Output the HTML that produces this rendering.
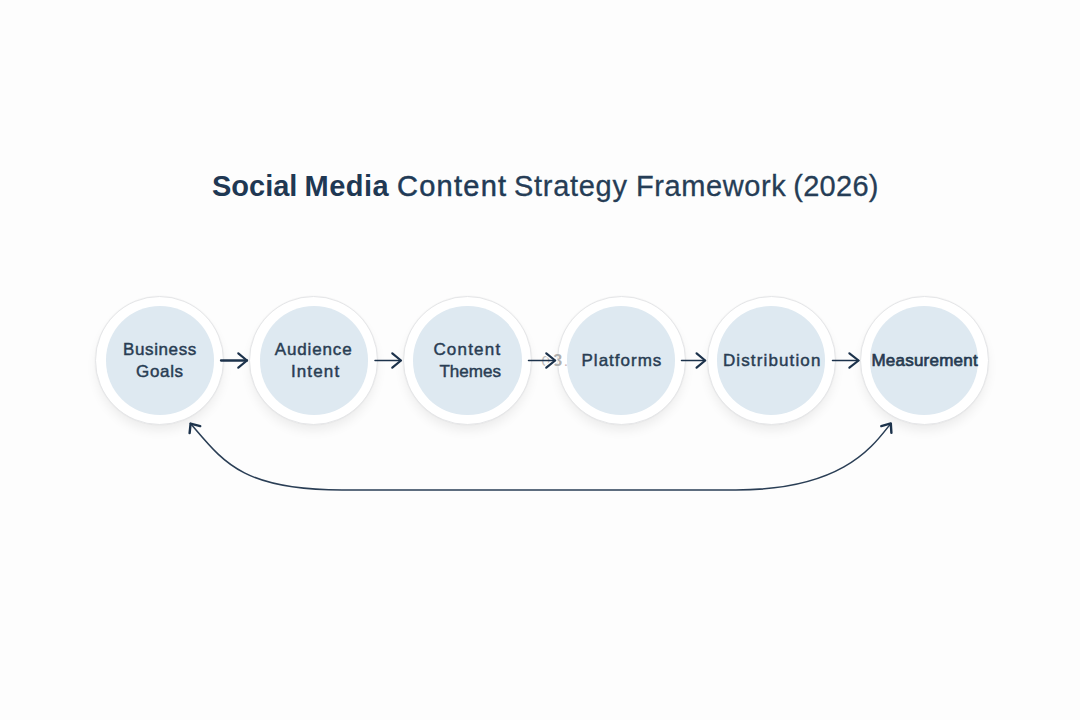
<!DOCTYPE html>
<html><head><meta charset="utf-8"><style>
html,body{margin:0;padding:0;}
body{width:1080px;height:720px;overflow:hidden;background:#fdfdfd;position:relative;font-family:"Liberation Sans",sans-serif;}
.t{position:absolute;white-space:nowrap;color:#1f3853;font-size:29px;line-height:29px;top:172px;}
.ring{position:absolute;width:129px;height:129px;border-radius:50%;background:#fff;box-sizing:border-box;border:1px solid #e5e6e8;box-shadow:0 0 1px 0.5px rgba(0,0,0,0.03),0 7px 12px -2px rgba(0,0,0,0.075);}
.fill{position:absolute;width:108.2px;height:108.2px;border-radius:50%;background:#dee9f1;}
.lb{position:absolute;white-space:nowrap;color:#293d53;font-size:17px;line-height:17px;-webkit-text-stroke:0.45px #293d53;transform-origin:0 0;}
svg{position:absolute;left:0;top:0;}
</style></head><body>
<span class="t" style="left:212px;font-weight:bold">Social</span><span class="t" style="left:304.5px;font-weight:bold;letter-spacing:0.5px">Media</span>
<span class="t" style="left:397px;-webkit-text-stroke:0.5px #213a56;color:#213a56;letter-spacing:1.25px">Content</span>
<span class="t" style="left:514px;letter-spacing:0.7px;-webkit-text-stroke:0.3px #263d56;color:#263d56">Strategy</span>
<span class="t" style="left:636px;letter-spacing:0.6px;-webkit-text-stroke:0.3px #263d56;color:#263d56">Framework</span>
<span class="t" style="left:793.2px;letter-spacing:0.3px;-webkit-text-stroke:0.3px #263d56;color:#263d56">(2026)</span>



<div class="ring" style="left:95.20px;top:296.00px"></div><div class="fill" style="left:105.60px;top:306.40px"></div>
<div class="ring" style="left:249.25px;top:296.00px"></div><div class="fill" style="left:259.65px;top:306.40px"></div>
<div class="ring" style="left:403.00px;top:296.00px"></div><div class="fill" style="left:413.40px;top:306.40px"></div>
<div class="ring" style="left:556.70px;top:296.00px"></div><div class="fill" style="left:567.10px;top:306.40px"></div>
<div class="ring" style="left:706.60px;top:296.00px"></div><div class="fill" style="left:717.00px;top:306.40px"></div>
<div class="ring" style="left:859.50px;top:296.00px"></div><div class="fill" style="left:869.90px;top:306.40px"></div>
<span class="lb" style="left:123px;top:341px;letter-spacing:0.62px">Business</span>
<span class="lb" style="left:136px;top:362.5px;letter-spacing:0.67px">Goals</span>
<span class="lb" style="left:274.7px;top:341px;letter-spacing:0.86px">Audience</span>
<span class="lb" style="left:290.9px;top:362.5px;letter-spacing:1.14px">Intent</span>
<span class="lb" style="left:433.4px;top:341px;letter-spacing:1.2px">Content</span>
<span class="lb" style="left:439.4px;top:362.5px;letter-spacing:0.02px">Themes</span>
<span class="lb" style="left:581.5px;top:351.5px;letter-spacing:1.01px">Platforms</span>
<span class="lb" style="left:722.9px;top:351.5px;letter-spacing:1.13px">Distribution</span>
<span class="lb" style="left:871.4px;top:351.5px;letter-spacing:0.24px;-webkit-text-stroke:0.65px #263a50;color:#263a50">Measurement</span>

<span style="position:absolute;left:541.5px;top:352.5px;font-size:15.5px;line-height:16px;color:#bdbdbd;white-space:nowrap">0</span>
<span style="position:absolute;left:553px;top:352.3px;font-size:16.5px;line-height:17px;color:#b0b0b0;font-weight:bold;white-space:nowrap">3<span style="color:#cdb9b9;font-weight:normal;margin-left:1.5px;font-size:15.5px">.</span></span>
<svg width="1080" height="720" viewBox="0 0 1080 720">
<g fill="none" stroke="#1c324b" stroke-linecap="round" stroke-linejoin="round">
<path d="M546.3 353.3L555.2 360.5L546.3 367.7" stroke="#fff" stroke-width="5"/>
<g stroke-width="1.5">
<path d="M221.0 360.5H247.0" stroke-width="2.3"/>
<path d="M375.0 360.5H401.0"/>
<path d="M528.5 360.5H555.2"/>
<path d="M681.5 360.5H705.2"/>
<path d="M832.5 360.5H858.6"/>
</g>
<g stroke-width="2.2">
<path d="M238.3 353.3L247.0 360.5L238.3 367.7"/>
<path d="M392.3 353.3L401.0 360.5L392.3 367.7"/>
<path d="M546.3 353.3L555.2 360.5L546.3 367.7"/>
<path d="M696.6 353.3L705.2 360.5L696.6 367.7"/>
<path d="M849.4 353.3L858.6 360.5L849.4 367.7"/>
</g>
<path stroke="#2a3e55" stroke-width="1.55" d="M190.3 423.3C222.8 461 241 490 342 490H736C844 490 873.5 445.2 890.8 423.5"/>
<g stroke-width="2.4">
<path d="M200.2 426.1L190.6 423.6L189.6 433.1"/>
<path d="M881.3 426.1L890.8 423.4L891.4 432.8"/>
</g>
</g>
</svg>
</body></html>
